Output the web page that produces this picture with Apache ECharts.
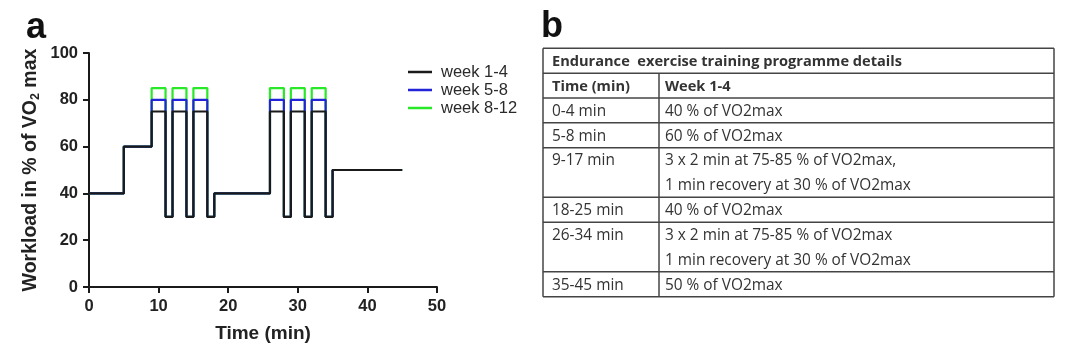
<!DOCTYPE html>
<html>
<head>
<meta charset="utf-8">
<script src="https://cdn.jsdelivr.net/npm/echarts@6/dist/echarts.min.js"></script>
<style>
  html, body { margin: 0; padding: 0; background: #fff; }
  #chart { width: 1080px; height: 351px; }
</style>
</head>
<body>
<div id="chart"></div>
<script>
// step start times (min) and workload (% VO2max) held from each time
const stepTimes = [0, 5, 9, 11, 12, 14, 15, 17, 18, 26, 28, 29, 31, 32, 34, 35, 45];
const week1to4 = [40, 60, 75, 30, 75, 30, 75, 30, 40, 75, 30, 75, 30, 75, 30, 50, 50];
const week5to8 = [40, 60, 80, 30, 80, 30, 80, 30, 40, 80, 30, 80, 30, 80, 30, 50, 50];
const week8to12 = [40, 60, 85, 30, 85, 30, 85, 30, 40, 85, 30, 85, 30, 85, 30, 50, 50];
const seriesNames = ['week 1-4', 'week 5-8', 'week 8-12'];
const seriesColors = ['#1a1a1a', '#2323d8', '#28e828'];

// table b
const tableTitle = 'Endurance  exercise training programme details';
const tableHeader = ['Time (min)', 'Week 1-4'];
const tableRows = [
  ['0-4 min', ['40 % of VO2max']],
  ['5-8 min', ['60 % of VO2max']],
  ['9-17 min', ['3 x 2 min at 75-85 % of VO2max,', '1 min recovery at 30 % of VO2max']],
  ['18-25 min', ['40 % of VO2max']],
  ['26-34 min', ['3 x 2 min at 75-85 % of VO2max', '1 min recovery at 30 % of VO2max']],
  ['35-45 min', ['50 % of VO2max']]
];

const chart = echarts.init(document.getElementById('chart'));

const toPairs = (vals) => stepTimes.map((t, i) => [t, vals[i]]);

// table geometry
const tX0 = 543, tX1 = 1054, tCol = 659, tY0 = 48.3, rowH = 24.84;
const tFont = '"Open Sans", "Liberation Sans", sans-serif';
const tColor = '#333';
const boldFont = 'bold 14.6px ' + tFont;
const normFont = '15.4px ' + tFont;
const tableEls = [];
const cellText = (x, cy, text, font) => ({
  type: 'text', x: x, y: cy + 1,
  style: { text: text, font: font, fill: tColor, verticalAlign: 'middle', align: 'left' }
});
let y = tY0;
const hLines = [y];
tableEls.push(cellText(tX0 + 9, y + rowH / 2, tableTitle, boldFont));
y += rowH; hLines.push(y);
const colTop = y;
tableEls.push(cellText(tX0 + 9, y + rowH / 2, tableHeader[0], boldFont));
tableEls.push(cellText(tCol + 6, y + rowH / 2, tableHeader[1], boldFont));
y += rowH; hLines.push(y);
tableRows.forEach(([time, lines]) => {
  tableEls.push(cellText(tX0 + 9, y + rowH / 2, time, normFont));
  lines.forEach((ln, k) => {
    tableEls.push(cellText(tCol + 6, y + k * rowH + rowH / 2, ln, normFont));
  });
  y += rowH * lines.length; hLines.push(y);
});
const tY1 = y;
const border = { stroke: '#444', lineWidth: 1.5 };
hLines.forEach((hy) => {
  tableEls.push({ type: 'line', shape: { x1: tX0, y1: hy, x2: tX1, y2: hy }, style: border });
});
tableEls.push({ type: 'line', shape: { x1: tX0, y1: tY0, x2: tX0, y2: tY1 }, style: border });
tableEls.push({ type: 'line', shape: { x1: tX1, y1: tY0, x2: tX1, y2: tY1 }, style: border });
tableEls.push({ type: 'line', shape: { x1: tCol, y1: colTop, x2: tCol, y2: tY1 }, style: border });

const axisFont = 'Liberation Sans';

const option = {
  backgroundColor: '#fff',
  animation: false,
  grid: { left: 89, right: 643, top: 53, bottom: 64 },
  legend: {
    orient: 'vertical',
    left: 403,
    top: 58,
    icon: 'rect',
    itemWidth: 24,
    itemHeight: 2.5,
    itemGap: 0,
    data: seriesNames,
    textStyle: { fontFamily: axisFont, fontSize: 16.5, color: '#2a2a2a', lineHeight: 18, padding: [0, 0, 0, 4] }
  },
  xAxis: {
    type: 'value',
    min: 0, max: 50, interval: 10,
    name: 'Time (min)',
    nameLocation: 'middle',
    nameGap: 37,
    nameTextStyle: { fontFamily: axisFont, fontWeight: 'bold', fontSize: 19, color: '#222' },
    axisLine: { lineStyle: { color: '#1a1a1a', width: 2 } },
    axisTick: { length: 6, lineStyle: { color: '#1a1a1a', width: 2 } },
    axisLabel: { margin: 11, fontFamily: axisFont, fontWeight: 'bold', fontSize: 16.5, color: '#222' },
    splitLine: { show: false }
  },
  yAxis: {
    type: 'value',
    min: 0, max: 100, interval: 20,
    axisLine: { show: true, lineStyle: { color: '#1a1a1a', width: 2 } },
    axisTick: { show: true, length: 6, lineStyle: { color: '#1a1a1a', width: 2 } },
    axisLabel: { margin: 11, fontFamily: axisFont, fontWeight: 'bold', fontSize: 16.5, color: '#222' },
    splitLine: { show: false }
  },
  series: [
    { name: seriesNames[2], type: 'line', step: 'end', symbol: 'none', z: 2,
      data: toPairs(week8to12), itemStyle: { color: seriesColors[2] },
      lineStyle: { color: seriesColors[2], width: 2.2 } },
    { name: seriesNames[1], type: 'line', step: 'end', symbol: 'none', z: 3,
      data: toPairs(week5to8), itemStyle: { color: seriesColors[1] },
      lineStyle: { color: seriesColors[1], width: 2.2 } },
    { name: seriesNames[0], type: 'line', step: 'end', symbol: 'none', z: 4,
      data: toPairs(week1to4), itemStyle: { color: seriesColors[0] },
      lineStyle: { color: seriesColors[0], width: 2.2 } }
  ],
  graphic: [
    { type: 'text', left: 26, top: 10,
      style: { text: 'a', font: 'bold 36px ' + axisFont, fill: '#111' } },
    { type: 'text', left: 541, top: 9,
      style: { text: 'b', font: 'bold 36px ' + axisFont, fill: '#111' } },
    { type: 'text', x: 31, y: 170, rotation: Math.PI / 2,
      style: {
        text: '{a|Workload in % of VO}{s|2}{a| max}',
        align: 'center', verticalAlign: 'middle',
        rich: {
          a: { fontFamily: axisFont, fontWeight: 'bold', fontSize: 19.5, fill: '#222', lineHeight: 24 },
          s: { fontFamily: axisFont, fontWeight: 'bold', fontSize: 12.5, fill: '#222', lineHeight: 24, padding: [10, 0, 0, 0] }
        }
      } }
  ].concat(tableEls)
};

chart.setOption(option);
</script>
</body>
</html>
